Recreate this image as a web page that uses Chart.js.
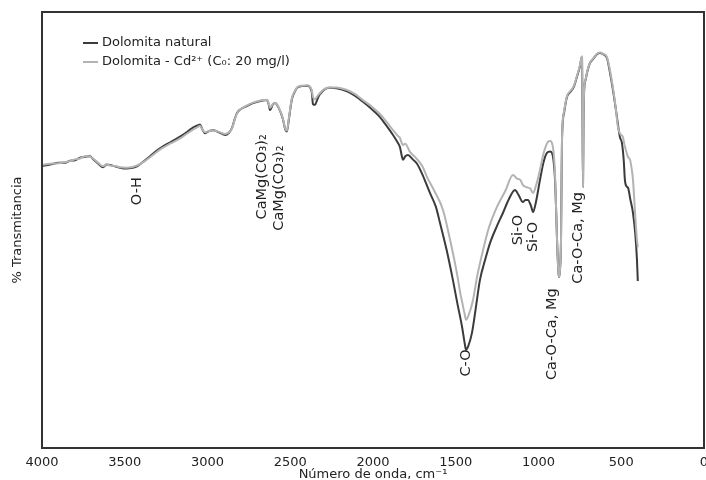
<!DOCTYPE html>
<html>
<head>
<meta charset="utf-8">
<script src="https://cdn.jsdelivr.net/npm/chart.js@4"></script>
<style>
  html, body { margin:0; padding:0; background:#fff; overflow:hidden; }
  #wrap { width:706px; height:480px; position:relative; }
</style>
</head>
<body>
<div id="wrap"><canvas id="ftir"></canvas></div>
<script>
// wavenumbers (cm-1) and % transmittance
const natWn = [4000,3950,3900,3860,3831,3800,3770,3740,3710,3692,3660,3631,3610,3589,3560,3530,3490,3460,3426,3390,3347,3300,3269,3220,3166,3120,3088,3060,3045,3030,3015,2990,2967,2930,2894,2870,2852,2835,2822,2804,2770,2725,2680,2641,2630,2622,2605,2592,2570,2545,2530,2520,2508,2490,2470,2459,2430,2393,2375,2369,2363,2350,2338,2325,2308,2290,2260,2220,2157,2110,2061,2010,1958,1920,1879,1850,1837,1825,1819,1805,1789,1760,1734,1700,1656,1620,1595,1555,1517,1490,1462,1445,1438,1425,1402,1380,1354,1320,1293,1250,1215,1180,1142,1120,1094,1080,1064,1045,1033,1015,991,970,949,930,919,908,900,893,888,880,876,871,864,861,858,845,828,812,798,785,768,750,740,737,734,731,728,724,715,707,698,689,670,650,629,610,586,570,550,530,508,496,485,478,468,459,445,429,415,405,400];
const natT = [64.7,65.0,65.4,65.4,65.9,66.0,66.6,66.8,66.9,66.3,65.2,64.4,65.0,64.9,64.6,64.3,64.1,64.2,64.6,65.6,66.9,68.4,69.2,70.2,71.4,72.6,73.5,74.0,74.2,73.0,72.2,72.7,72.9,72.4,71.8,72.3,73.4,75.5,76.8,77.6,78.3,79.1,79.6,79.8,78.8,77.5,78.8,79.1,78.0,75.5,73.0,72.6,75.5,80.0,81.9,82.6,83.0,83.1,82.3,81.4,78.9,78.7,79.8,80.9,81.7,82.3,82.6,82.5,81.8,80.8,79.4,77.8,75.9,74.0,71.8,70.0,69.0,66.8,66.1,66.9,67.2,66.2,65.2,62.6,58.5,55.3,51.6,45.4,38.5,33.1,27.8,23.8,22.5,23.3,26.4,31.8,38.5,43.5,47.0,51.0,53.9,57.0,59.2,58.0,56.4,56.9,56.9,55.5,54.1,56.5,61.5,65.5,67.7,68.0,67.7,65.5,61.5,54.0,47.7,40.5,39.2,40.5,47.7,60.0,70.6,77.0,80.5,81.5,82.1,83.0,85.1,87.5,89.5,89.7,75.0,59.9,75.0,82.1,84.5,86.0,87.3,88.3,89.2,90.2,90.6,90.3,89.4,86.5,82.1,77.0,71.3,70.0,66.0,61.5,60.0,59.7,57.0,53.9,49.0,43.1,38.3];

const cdWn = [4000,3950,3900,3860,3831,3800,3770,3740,3710,3692,3660,3631,3610,3589,3560,3530,3490,3460,3426,3390,3347,3300,3269,3220,3166,3120,3088,3060,3045,3030,3015,2990,2967,2930,2894,2870,2852,2835,2822,2804,2770,2725,2680,2641,2630,2622,2605,2592,2570,2545,2530,2520,2508,2490,2470,2459,2430,2393,2375,2369,2363,2350,2338,2325,2308,2290,2260,2220,2157,2110,2061,2010,1958,1920,1879,1850,1837,1825,1819,1805,1777,1740,1700,1674,1630,1577,1530,1493,1470,1462,1445,1438,1425,1396,1370,1335,1300,1251,1200,1154,1130,1110,1094,1070,1050,1033,1015,991,970,943,930,919,908,900,893,888,880,876,871,864,861,858,845,828,812,798,785,768,750,740,737,734,731,728,724,715,707,698,689,670,650,629,610,586,570,550,535,520,505,490,480,472,460,447,435,429,415,405,400];
const cdT = [64.9,65.2,65.3,65.6,65.8,66.2,66.4,66.9,66.8,66.4,65.4,64.6,65.1,64.8,64.7,64.4,64.3,64.4,64.8,65.5,66.7,68.1,68.9,69.9,71.0,72.2,73.0,73.6,73.9,73.0,72.4,72.7,72.8,72.5,72.0,72.4,73.3,75.4,76.7,77.6,78.4,79.2,79.7,79.9,79.0,78.0,78.9,79.2,78.1,75.6,73.2,72.8,75.7,80.2,82.0,82.7,83.1,83.2,82.5,81.9,80.5,80.0,80.6,81.2,81.9,82.4,82.7,82.7,82.1,81.2,79.8,78.4,76.6,74.9,72.9,71.6,71.1,69.8,69.5,69.8,67.9,66.5,64.5,62.2,59.0,54.6,47.0,40.1,35.0,33.6,30.5,29.4,30.2,33.9,39.5,45.4,50.5,55.3,59.0,62.6,61.8,61.5,60.3,59.8,59.5,58.5,60.2,63.8,67.5,70.2,70.4,70.0,67.5,62.6,54.0,47.7,40.5,39.2,40.5,47.7,60.5,71.0,77.3,80.7,81.7,82.3,83.2,85.3,87.7,89.6,89.8,75.0,59.9,75.0,82.3,84.6,86.2,87.4,88.4,89.3,90.3,90.7,90.4,89.6,87.0,82.6,78.5,73.6,72.0,71.3,69.5,68.3,66.8,66.1,63.5,61.5,53.0,47.7,46.0];

const xTicks = [4000,3500,3000,2500,2000,1500,1000,500,0];
const seriesNames = ['Dolomita natural', 'Dolomita - Cd²⁺ (C₀: 20 mg/l)'];

// band assignments, written vertically on the plot
const notes = [
  { text:'O-H',           wn:3426, t:58.9 },
  { text:'CaMg(CO₃)₂',    wn:2671, t:62.2 },
  { text:'CaMg(CO₃)₂',    wn:2568, t:59.6 },
  { text:'C-O',           wn:1438, t:19.5 },
  { text:'Si-O',          wn:1124, t:50.0 },
  { text:'Si-O',          wn:1033, t:48.4 },
  { text:'Ca-O-Ca, Mg',   wn:919,  t:26.1 },
  { text:'Ca-O-Ca, Mg',   wn:762,  t:48.2 }
];

const FONT = '"DejaVu Sans", Verdana, sans-serif';
const DARK = '#3b3b3b', LIGHT = '#b3b3b3';

const pts = (xs, ys) => xs.map((x, i) => ({ x, y: ys[i] }));

const decor = {
  id: 'decor',
  afterDatasetsDraw(chart) {
    const { ctx, chartArea: a, scales: { x, y } } = chart;
    ctx.save();
    // frame
    ctx.strokeStyle = '#333';
    ctx.lineWidth = 2;
    ctx.strokeRect(a.left, a.top, a.right - a.left, a.bottom - a.top);

    // legend
    ctx.font = '13px ' + FONT;
    ctx.textBaseline = 'middle';
    ctx.textAlign = 'left';
    [[DARK, 43], [LIGHT, 62]].forEach(([c, yy], i) => {
      ctx.strokeStyle = c;
      ctx.lineWidth = 2;
      ctx.beginPath(); ctx.moveTo(83, yy); ctx.lineTo(98, yy); ctx.stroke();
      ctx.fillStyle = '#222';
      ctx.fillText(seriesNames[i], 102, yy);
    });

    // band labels
    ctx.font = '14.5px ' + FONT;
    ctx.fillStyle = '#222';
    ctx.textAlign = 'center';
    notes.forEach(n => {
      ctx.save();
      ctx.translate(x.getPixelForValue(n.wn), y.getPixelForValue(n.t));
      ctx.rotate(-Math.PI / 2);
      ctx.fillText(n.text, 0, 0);
      ctx.restore();
    });
    ctx.restore();
  }
};

new Chart(document.getElementById('ftir').getContext('2d'), {
  type: 'line',
  data: {
    datasets: [
      { label: seriesNames[1], data: pts(cdWn, cdT), borderColor: LIGHT, borderWidth: 2, order: 0 },
      { label: seriesNames[0], data: pts(natWn, natT), borderColor: DARK, borderWidth: 2, order: 1 }
    ]
  },
  options: {
    responsive: true, maintainAspectRatio: false, animation: false,
    parsing: false,
    layout: { padding: { top: 12, right: 2, left: 0, bottom: 0 } },
    elements: { point: { radius: 0 }, line: { cubicInterpolationMode: 'monotone', fill: false } },
    plugins: { legend: { display: false }, tooltip: { enabled: false } },
    scales: {
      x: {
        type: 'linear', reverse: true, min: 0, max: 4000,
        grid: { display: false, drawTicks: false }, border: { display: false },
        afterBuildTicks: s => { s.ticks = xTicks.map(v => ({ value: v })); },
        ticks: { autoSkip: false, maxRotation: 0, padding: 7, color: '#222', font: { family: FONT, size: 13 },
                 callback: v => String(v) },
        title: { display: true, text: 'Número de onda, cm⁻¹', color: '#222', padding: { top: 0, bottom: -2 }, font: { family: FONT, size: 13 } },
        afterFit: s => { s.height = 32; s.paddingLeft = 0; s.paddingRight = 0; }
      },
      y: {
        min: 0, max: 100,
        grid: { display: false, drawTicks: false }, border: { display: false },
        ticks: { display: false },
        title: { display: true, text: '% Transmitancia', color: '#222', padding: { top: 10, bottom: 0 }, font: { family: FONT, size: 13 } },
        afterFit: s => { s.width = 42; }
      }
    }
  },
  plugins: [decor]
});
</script>
</body>
</html>
